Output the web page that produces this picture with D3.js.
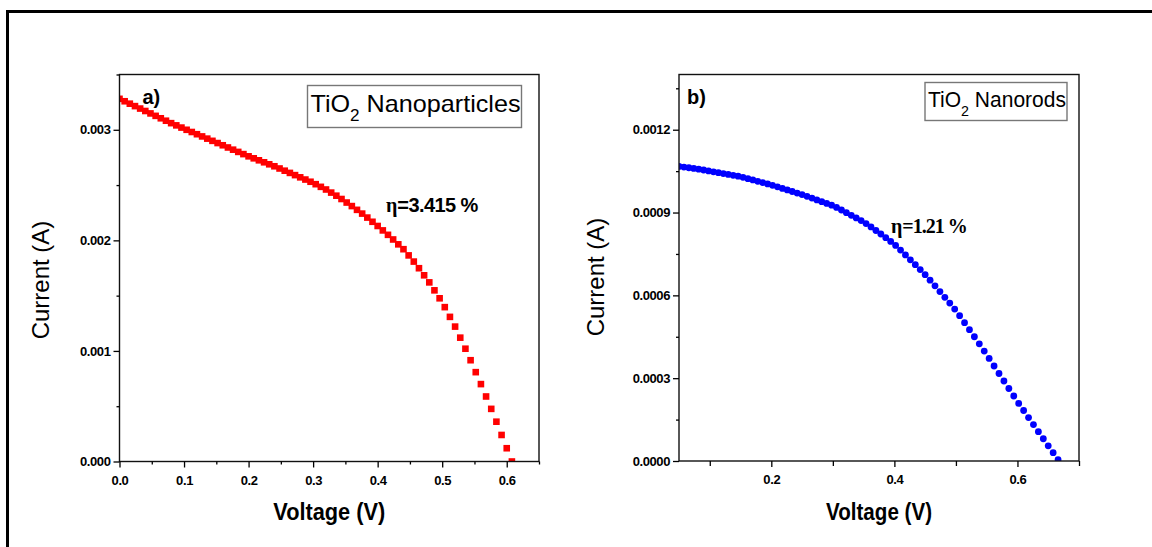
<!DOCTYPE html>
<html>
<head>
<meta charset="utf-8">
<script src="https://cdn.jsdelivr.net/npm/d3@7"></script>
<style>
  body { margin: 0; background: #fff; }
  svg { display: block; font-family: "Liberation Sans", Arial, sans-serif; }
  .tick text { font-size: 13px; font-weight: bold; fill: #000; letter-spacing: -0.4px; }
  .tick line { stroke: #000; stroke-width: 1.3px; }
  .domain { display: none; }
  .plot-frame { fill: none; stroke: #111; stroke-width: 1.4px; }
  .legend-box { fill: #fff; stroke: #777; stroke-width: 1.4px; }
  .axis-title-x { font-size: 24px; font-weight: bold; }
  .axis-title-y { font-size: 24px; }
  .panel-label { font-size: 20px; font-weight: bold; }
</style>
</head>
<body>
<svg id="chart" width="1152" height="547"></svg>
<script>
// Panel a) TiO2 nanoparticles (V, A)
var voltage_a = [0.000, 0.008, 0.016, 0.024, 0.032, 0.040, 0.048, 0.056, 0.064, 0.072,
  0.080, 0.088, 0.096, 0.104, 0.112, 0.120, 0.128, 0.136, 0.144, 0.152,
  0.160, 0.168, 0.176, 0.184, 0.192, 0.200, 0.208, 0.216, 0.224, 0.232,
  0.240, 0.248, 0.256, 0.264, 0.272, 0.280, 0.288, 0.296, 0.304, 0.312,
  0.320, 0.328, 0.336, 0.344, 0.352, 0.360, 0.368, 0.376, 0.384, 0.392,
  0.400, 0.408, 0.416, 0.424, 0.432, 0.440, 0.448, 0.456, 0.464, 0.472,
  0.480, 0.488, 0.496, 0.504, 0.512, 0.520, 0.528, 0.536, 0.544, 0.552,
  0.560, 0.568, 0.576, 0.584, 0.592, 0.600, 0.608];
var current_a = [0.003280, 0.003258, 0.003236, 0.003214, 0.003192, 0.003170, 0.003148, 0.003126, 0.003104, 0.003082,
  0.003060, 0.003040, 0.003020, 0.003000, 0.002980, 0.002960, 0.002940, 0.002920, 0.002900, 0.002880,
  0.002860, 0.002840, 0.002820, 0.002800, 0.002780, 0.002760, 0.002742, 0.002724, 0.002706, 0.002688,
  0.002670, 0.002650, 0.002630, 0.002610, 0.002590, 0.002570, 0.002550, 0.002530, 0.002508, 0.002484,
  0.002460, 0.002432, 0.002404, 0.002374, 0.002342, 0.002310, 0.002276, 0.002242, 0.002206, 0.002168,
  0.002130, 0.002090, 0.002050, 0.002008, 0.001964, 0.001920, 0.001864, 0.001808, 0.001748, 0.001684,
  0.001620, 0.001548, 0.001476, 0.001396, 0.001308, 0.001220, 0.001120, 0.001020, 0.000916, 0.000808,
  0.000700, 0.000588, 0.000476, 0.000360, 0.000240, 0.000120, 0.000000];

// Panel b) TiO2 nanorods (V, A)
var voltage_b = [0.050, 0.058, 0.066, 0.074, 0.082, 0.090, 0.098, 0.106, 0.114, 0.122,
  0.130, 0.138, 0.146, 0.154, 0.162, 0.170, 0.178, 0.186, 0.194, 0.202,
  0.210, 0.218, 0.226, 0.234, 0.242, 0.250, 0.258, 0.266, 0.274, 0.282,
  0.290, 0.298, 0.306, 0.314, 0.322, 0.330, 0.338, 0.346, 0.354, 0.362,
  0.370, 0.378, 0.386, 0.394, 0.402, 0.410, 0.418, 0.426, 0.434, 0.442,
  0.450, 0.458, 0.466, 0.474, 0.482, 0.490, 0.498, 0.506, 0.514, 0.522,
  0.530, 0.538, 0.546, 0.554, 0.562, 0.570, 0.578, 0.586, 0.594, 0.602,
  0.610, 0.618, 0.626, 0.634, 0.642, 0.650, 0.658, 0.666];
var current_b = [0.0010670, 0.0010646, 0.0010622, 0.0010598, 0.0010572, 0.0010540, 0.0010508, 0.0010476, 0.0010444, 0.0010412,
  0.0010380, 0.0010348, 0.0010316, 0.0010276, 0.0010228, 0.0010180, 0.0010132, 0.0010084, 0.0010036, 0.0009986,
  0.0009930, 0.0009874, 0.0009818, 0.0009762, 0.0009706, 0.0009650, 0.0009586, 0.0009522, 0.0009458, 0.0009394,
  0.0009330, 0.0009266, 0.0009184, 0.0009092, 0.0008996, 0.0008900, 0.0008804, 0.0008708, 0.0008600, 0.0008478,
  0.0008350, 0.0008222, 0.0008088, 0.0007952, 0.0007808, 0.0007640, 0.0007464, 0.0007288, 0.0007112, 0.0006934,
  0.0006750, 0.0006550, 0.0006344, 0.0006136, 0.0005928, 0.0005720, 0.0005504, 0.0005264, 0.0005012, 0.0004756,
  0.0004500, 0.0004244, 0.0003982, 0.0003714, 0.0003442, 0.0003170, 0.0002898, 0.0002626, 0.0002354, 0.0002086,
  0.0001830, 0.0001574, 0.0001318, 0.0001062, 0.0000806, 0.0000550, 0.0000302, 0.0000049];

// Tick values
var x_ticks_a = [0, 0.1, 0.2, 0.3, 0.4, 0.5, 0.6];
var x_minor_a = [0.05, 0.15, 0.25, 0.35, 0.45, 0.55, 0.65];
var y_ticks_a = [0, 0.001, 0.002, 0.003];
var y_minor_a = [0.0005, 0.0015, 0.0025, 0.0035];

var x_ticks_b = [0.2, 0.4, 0.6];
var x_minor_b = [0.1, 0.3, 0.5, 0.7];
var y_ticks_b = [0, 0.0003, 0.0006, 0.0009, 0.0012];
var y_minor_b = [0.00015, 0.00045, 0.00075, 0.00105, 0.00135];

var svg = d3.select("#chart");

// Outer frame (top and left edges only visible)
svg.append("polyline")
  .attr("points", [[1152, 11.5], [7.5, 11.5], [7.5, 547]])
  .attr("fill", "none")
  .attr("stroke", "#000")
  .attr("stroke-width", 3);

function drawPanel(p) {
  var x = d3.scaleLinear().domain(p.xDomain).range([p.left, p.right]);
  var y = d3.scaleLinear().domain(p.yDomain).range([p.bottom, p.top]);

  var g = svg.append("g");

  g.append("clipPath")
    .attr("id", p.id + "-clip")
    .append("rect")
    .attr("x", p.left)
    .attr("y", p.top)
    .attr("width", p.right - p.left)
    .attr("height", p.bottom - p.top);

  // Markers
  var pts = p.xs.map((v, i) => ({ v: v, c: p.ys[i] }));
  var marks = g.append("g").attr("clip-path", "url(#" + p.id + "-clip)");
  if (p.shape === "square") {
    marks.selectAll("rect")
      .data(pts)
      .enter()
      .append("rect")
      .attr("x", (d) => x(d.v) - 3.3)
      .attr("y", (d) => y(d.c) - 3.3)
      .attr("width", 6.6)
      .attr("height", 6.6)
      .attr("fill", p.color);
  } else {
    marks.selectAll("circle")
      .data(pts)
      .enter()
      .append("circle")
      .attr("cx", (d) => x(d.v))
      .attr("cy", (d) => y(d.c))
      .attr("r", 3.4)
      .attr("fill", p.color);
  }

  // Frame
  g.append("rect")
    .attr("class", "plot-frame")
    .attr("x", p.left)
    .attr("y", p.top)
    .attr("width", p.right - p.left)
    .attr("height", p.bottom - p.top);

  // X axis
  g.append("g")
    .attr("transform", "translate(0," + p.bottom + ")")
    .call(d3.axisBottom(x).tickValues(p.xTicks).tickSize(6).tickPadding(8)
      .tickFormat(d3.format(p.xFmt)));
  g.append("g")
    .attr("transform", "translate(0," + p.bottom + ")")
    .call(d3.axisBottom(x).tickValues(p.xMinor).tickSize(p.xMinorSize).tickFormat(""));

  // Y axis
  g.append("g")
    .attr("transform", "translate(" + p.left + ",0)")
    .call(d3.axisLeft(y).tickValues(p.yTicks).tickSize(6).tickPadding(3)
      .tickFormat(d3.format(p.yFmt)));
  g.append("g")
    .attr("transform", "translate(" + p.left + ",0)")
    .call(d3.axisLeft(y).tickValues(p.yMinor).tickSize(3).tickFormat(""));

  // Axis titles
  g.append("text")
    .attr("class", "axis-title-x")
    .attr("x", (p.left + p.right) / 2)
    .attr("y", 520)
    .attr("text-anchor", "middle")
    .attr("textLength", p.xTitleLen)
    .attr("lengthAdjust", "spacingAndGlyphs")
    .text("Voltage (V)");

  g.append("text")
    .attr("class", "axis-title-y")
    .attr("transform", "translate(" + p.yTitleX + "," + p.yTitleY + ") rotate(-90)")
    .attr("text-anchor", "middle")
    .text("Current (A)");

  // Panel letter
  g.append("text")
    .attr("class", "panel-label")
    .attr("x", p.left + p.labelDx)
    .attr("y", p.top + 29)
    .text(p.label);

  // Legend box
  g.append("rect")
    .attr("class", "legend-box")
    .attr("x", p.legend[0])
    .attr("y", p.legend[1])
    .attr("width", p.legend[2])
    .attr("height", p.legend[3]);

  var lt = g.append("text")
    .attr("x", p.legend[0] + 3)
    .attr("y", p.legend[1] + p.legendBase)
    .attr("font-size", p.legendFont + "px")
    .attr("textLength", p.legend[2] - 4)
    .attr("lengthAdjust", "spacingAndGlyphs");
  lt.append("tspan").text("TiO");
  lt.append("tspan").attr("dy", 9).attr("font-size", (p.legendFont * 0.68) + "px").text("2");
  lt.append("tspan").attr("dy", -9).text(" " + p.name);

  // Efficiency note
  var et = g.append("text")
    .attr("x", p.eta[0])
    .attr("y", p.eta[1])
    .attr("font-size", p.etaFont + "px");
  et.append("tspan")
    .attr("font-family", "'Liberation Serif', 'Times New Roman', serif")
    .attr("font-weight", p.etaWeight)
    .text("η");
  et.append("tspan")
    .attr("font-family", p.etaFamily)
    .attr("font-weight", p.etaWeight)
    .attr("letter-spacing", p.etaSpacing)
    .text(p.etaText);
}

drawPanel({
  id: "pa",
  xs: voltage_a, ys: current_a,
  shape: "square", color: "#ff0000",
  xDomain: [0, 0.65], yDomain: [0, 0.0035],
  left: 119.5, right: 539, top: 74.5, bottom: 461.5,
  xTicks: x_ticks_a, xMinor: x_minor_a, xMinorSize: 3, xFmt: ".1f",
  yTicks: y_ticks_a, yMinor: y_minor_a, yFmt: ".3f",
  xTitleLen: 112, yTitleX: 49, yTitleY: 280,
  label: "a)", labelDx: 23,
  legend: [307.5, 85.5, 214, 42], legendBase: 26, legendFont: 24,
  name: "Nanoparticles",
  eta: [386, 212], etaFont: 20, etaText: "=3.415 %",
  etaFamily: "'Liberation Sans', Arial, sans-serif", etaWeight: "bold", etaSpacing: "-0.6px"
});

drawPanel({
  id: "pb",
  xs: voltage_b, ys: current_b,
  shape: "circle", color: "#0000ff",
  xDomain: [0.05, 0.70], yDomain: [0, 0.0014],
  left: 679, right: 1079, top: 74.5, bottom: 461,
  xTicks: x_ticks_b, xMinor: x_minor_b, xMinorSize: 5, xFmt: ".1f",
  yTicks: y_ticks_b, yMinor: y_minor_b, yFmt: ".4f",
  xTitleLen: 106, yTitleX: 604, yTitleY: 277,
  label: "b)", labelDx: 8,
  legend: [925, 82.5, 142, 38], legendBase: 24, legendFont: 22,
  name: "Nanorods",
  eta: [891, 233], etaFont: 20, etaText: "=1.21 %",
  etaFamily: "'Liberation Serif', 'Times New Roman', serif", etaWeight: "bold", etaSpacing: "-1px"
});
</script>
</body>
</html>
